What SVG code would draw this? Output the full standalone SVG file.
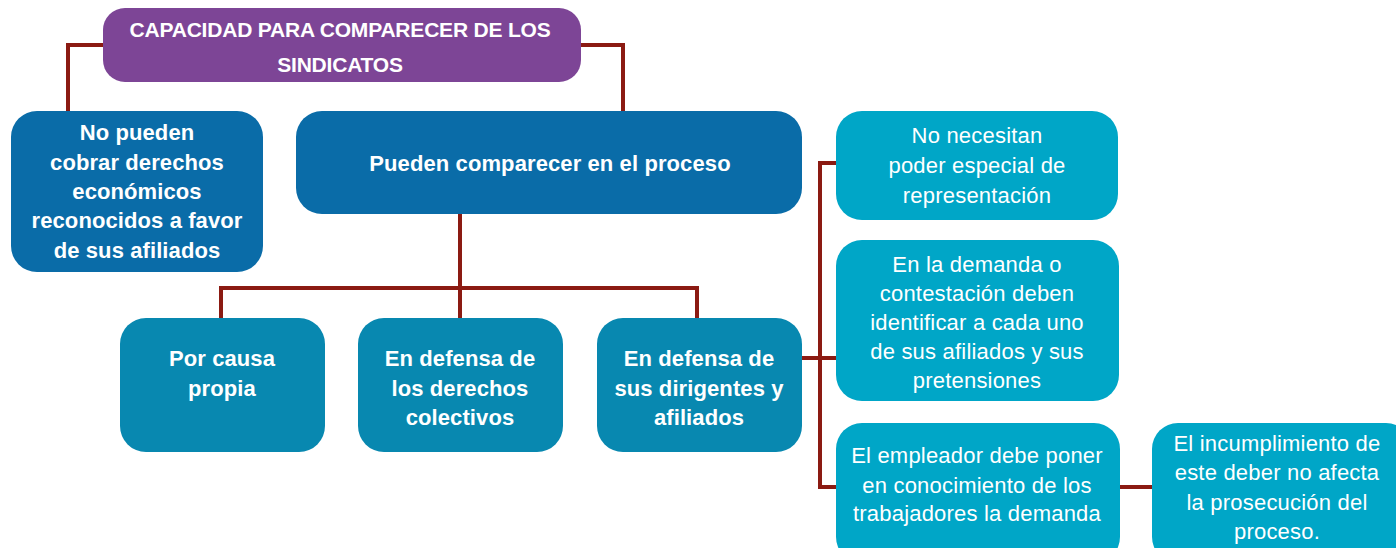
<svg xmlns="http://www.w3.org/2000/svg" width="1396" height="548" viewBox="0 0 1396 548">
<style>
.c{fill:none;stroke:#8B1A12;stroke-width:4}
.t{font-family:"Liberation Sans",Arial,sans-serif;fill:#fff;text-anchor:middle}
.b{font-weight:bold;font-size:22px;letter-spacing:0.1px}
.r{font-size:22px;letter-spacing:0.2px}
.h{font-weight:bold;font-size:21px;letter-spacing:-0.2px}
.p{fill:#7D4596}
.d{fill:#0A6CA8}
.m{fill:#0888B0}
.l{fill:#00A6C7}
</style>
<rect width="1396" height="548" fill="#fff"/>
<g id="connectors">
<polyline class="c" points="105,45 68,45 68,112"/>
<polyline class="c" points="578,45 623,45 623,112"/>
<polyline class="c" points="460,212 460,288"/>
<polyline class="c" points="221,319 221,288 697,288 697,319"/>
<line class="c" x1="460" y1="288" x2="460" y2="319"/>
<polyline class="c" points="838,163 820,163 820,487 838,487"/>
<line class="c" x1="800" y1="358" x2="838" y2="358"/>
<line class="c" x1="1116" y1="487" x2="1154" y2="487"/>
</g>
<g id="title">
<rect class="p" x="103" y="8" width="478" height="74" rx="22"/>
<text class="t h" x="340" y="37">CAPACIDAD PARA COMPARECER DE LOS</text>
<text class="t h" x="340" y="72">SINDICATOS</text>
</g>
<g id="no-pueden">
<rect class="d" x="11" y="111" width="252" height="161" rx="26"/>
<text class="t b" x="137" y="140">No pueden</text>
<text class="t b" x="137" y="170">cobrar derechos</text>
<text class="t b" x="137" y="199">económicos</text>
<text class="t b" x="137" y="228">reconocidos a favor</text>
<text class="t b" x="137" y="258">de sus afiliados</text>
</g>
<g id="pueden">
<rect class="d" x="296" y="111" width="506" height="103" rx="26"/>
<text class="t b" x="550" y="171">Pueden comparecer en el proceso</text>
</g>
<g id="causa-propia">
<rect class="m" x="120" y="318" width="205" height="134" rx="26"/>
<text class="t b" x="222" y="366">Por causa</text>
<text class="t b" x="222" y="396">propia</text>
</g>
<g id="derechos-colectivos">
<rect class="m" x="358" y="318" width="205" height="134" rx="26"/>
<text class="t b" x="460" y="366">En defensa de</text>
<text class="t b" x="460" y="396">los derechos</text>
<text class="t b" x="460" y="425">colectivos</text>
</g>
<g id="dirigentes-afiliados">
<rect class="m" x="597" y="318" width="205" height="134" rx="26"/>
<text class="t b" x="699" y="366">En defensa de</text>
<text class="t b" x="699" y="396">sus dirigentes y</text>
<text class="t b" x="699" y="425">afiliados</text>
</g>
<g id="poder-especial">
<rect class="l" x="836" y="111" width="282" height="109" rx="26"/>
<text class="t r" x="977" y="143">No necesitan</text>
<text class="t r" x="977" y="173">poder especial de</text>
<text class="t r" x="977" y="203">representación</text>
</g>
<g id="identificar">
<rect class="l" x="836" y="240" width="283" height="161" rx="26"/>
<text class="t r" x="977" y="272">En la demanda o</text>
<text class="t r" x="977" y="301">contestación deben</text>
<text class="t r" x="977" y="330">identificar a cada uno</text>
<text class="t r" x="977" y="359">de sus afiliados y sus</text>
<text class="t r" x="977" y="388">pretensiones</text>
</g>
<g id="empleador">
<rect class="l" x="836" y="423" width="284" height="140" rx="26"/>
<text class="t r" x="977" y="463">El empleador debe poner</text>
<text class="t r" x="977" y="493">en conocimiento de los</text>
<text class="t r" x="977" y="521">trabajadores la demanda</text>
</g>
<g id="incumplimiento">
<rect class="l" x="1152" y="423" width="260" height="140" rx="26"/>
<text class="t r" x="1277" y="451">El incumplimiento de</text>
<text class="t r" x="1277" y="480">este deber no afecta</text>
<text class="t r" x="1277" y="510">la prosecución del</text>
<text class="t r" x="1277" y="539">proceso.</text>
</g>
</svg>
